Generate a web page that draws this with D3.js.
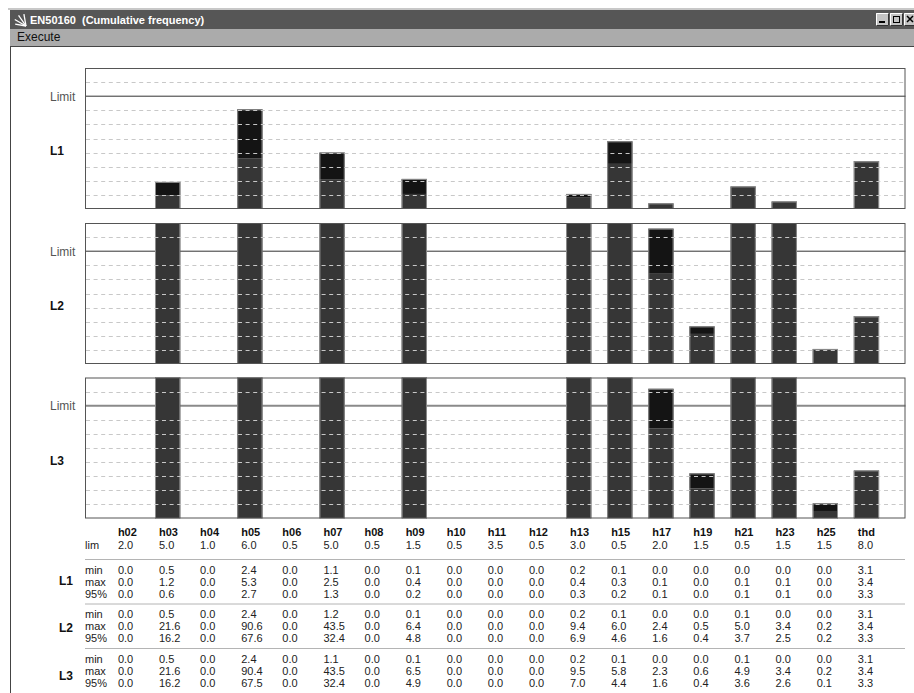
<!DOCTYPE html>
<html>
<head>
<meta charset="utf-8">
<script src="https://cdn.jsdelivr.net/npm/d3@7"></script>
<style>
  body { margin: 0; background: #fff; }
  svg { display: block; font-family: "Liberation Sans", Arial, sans-serif; }
</style>
</head>
<body>
<svg id="chart" width="914" height="693"></svg>
<script>
// harmonics and their limits
const categories = ['h02','h03','h04','h05','h06','h07','h08','h09','h10','h11','h12','h13','h15','h17','h19','h21','h23','h25','thd']
const limits = [2.0,5.0,1.0,6.0,0.5,5.0,0.5,1.5,0.5,3.5,0.5,3.0,0.5,2.0,1.5,0.5,1.5,1.5,8.0]

// L1
const l1Min = [0.0,0.5,0.0,2.4,0.0,1.1,0.0,0.1,0.0,0.0,0.0,0.2,0.1,0.0,0.0,0.0,0.0,0.0,3.1]
const l1Max = [0.0,1.2,0.0,5.3,0.0,2.5,0.0,0.4,0.0,0.0,0.0,0.4,0.3,0.1,0.0,0.1,0.1,0.0,3.4]
const l1P95 = [0.0,0.6,0.0,2.7,0.0,1.3,0.0,0.2,0.0,0.0,0.0,0.3,0.2,0.1,0.0,0.1,0.1,0.0,3.3]
// L2
const l2Min = [0.0,0.5,0.0,2.4,0.0,1.2,0.0,0.1,0.0,0.0,0.0,0.2,0.1,0.0,0.0,0.1,0.0,0.0,3.1]
const l2Max = [0.0,21.6,0.0,90.6,0.0,43.5,0.0,6.4,0.0,0.0,0.0,9.4,6.0,2.4,0.5,5.0,3.4,0.2,3.4]
const l2P95 = [0.0,16.2,0.0,67.6,0.0,32.4,0.0,4.8,0.0,0.0,0.0,6.9,4.6,1.6,0.4,3.7,2.5,0.2,3.3]
// L3
const l3Min = [0.0,0.5,0.0,2.4,0.0,1.1,0.0,0.1,0.0,0.0,0.0,0.2,0.1,0.0,0.0,0.1,0.0,0.0,3.1]
const l3Max = [0.0,21.6,0.0,90.4,0.0,43.5,0.0,6.5,0.0,0.0,0.0,9.5,5.8,2.3,0.6,4.9,3.4,0.2,3.4]
const l3P95 = [0.0,16.2,0.0,67.5,0.0,32.4,0.0,4.9,0.0,0.0,0.0,7.0,4.4,1.6,0.4,3.6,2.6,0.1,3.3]

const phaseNames = ['L1','L2','L3']
const rowLabels = ['min','max','95%']

const phases = [
    {name: 'L1', rows: [l1Min, l1Max, l1P95]},
    {name: 'L2', rows: [l2Min, l2Max, l2P95]},
    {name: 'L3', rows: [l3Min, l3Max, l3P95]}
]

const svg = d3.select('#chart')
const font = '"Liberation Sans", Arial, sans-serif'

/**
 * window chrome: title bar, menu, frame
 */
const drawWindow = () => {
    svg.append('rect').attr('x', 8).attr('y', 8).attr('width', 906).attr('height', 2).attr('fill', '#c8c8c8')
    svg.append('rect').attr('x', 10).attr('y', 10).attr('width', 904).attr('height', 19).attr('fill', '#565656')

    // little logo, a fan of strokes
    let logo = svg.append('g').attr('transform', 'translate(26,26)')
    ;[[-100, 12], [-125, 13], [-150, 13], [-170, 11]].forEach(a => {
        let r = a[0] * Math.PI / 180
        logo.append('line')
            .attr('x1', 0).attr('y1', 0)
            .attr('x2', Math.cos(r) * a[1]).attr('y2', Math.sin(r) * a[1])
            .attr('stroke', '#fff').attr('stroke-width', 1.3)
    })

    svg.append('text')
        .attr('x', 30).attr('y', 24)
        .style('font', `bold 11px ${font}`)
        .style('white-space', 'pre')
        .attr('fill', '#fff')
        .text('EN50160  (Cumulative frequency)')

    // window buttons
    ;[876, 890, 904].forEach((bx, i) => {
        let b = svg.append('g').attr('transform', `translate(${bx},13)`)
        b.append('rect').attr('width', 13).attr('height', 13).attr('fill', '#c4c4c4')
        b.append('path').attr('d', 'M0.5,12.5V0.5H12.5').attr('fill', 'none').attr('stroke', '#fff')
        b.append('path').attr('d', 'M0.5,12.5H12.5V0.5').attr('fill', 'none').attr('stroke', '#333')
        if (i == 0) b.append('rect').attr('x', 3).attr('y', 8).attr('width', 6).attr('height', 2).attr('fill', '#000')
        if (i == 1) b.append('rect').attr('x', 3.5).attr('y', 3.5).attr('width', 6).attr('height', 6)
            .attr('fill', 'none').attr('stroke', '#000').attr('stroke-width', 1)
        if (i == 2) b.append('path').attr('d', 'M3,3L9,9M9,3L3,9').attr('stroke', '#000').attr('stroke-width', 1.5)
    })

    svg.append('rect').attr('x', 10).attr('y', 29).attr('width', 904).attr('height', 17).attr('fill', '#ababab')
    svg.append('text')
        .attr('x', 17).attr('y', 41)
        .style('font', `12px ${font}`)
        .attr('fill', '#111')
        .text('Execute')

    svg.append('line').attr('x1', 10).attr('x2', 914).attr('y1', 46.5).attr('y2', 46.5).attr('stroke', '#444')
    svg.append('line').attr('x1', 10.5).attr('x2', 10.5).attr('y1', 46).attr('y2', 693).attr('stroke', '#444')
}

drawWindow()

const panelX0 = 85, panelX1 = 905.5
const panelH = 141
const panelTops = [68, 223, 377.5]

const xScale = d3.scaleBand()
    .domain(categories)
    .range([106, 887])
    .paddingInner(0.384)
    .paddingOuter(0.192)

/**
 * one phase panel, bars relative to limit (limit at 80% of height)
 */
const drawPanel = (phase, top, idx) => {
    let bottom = top + panelH
    let yScale = d3.scaleLinear().domain([0, 1.25]).range([bottom, top])
    let g = svg.append('g')

    g.append('rect')
        .attr('x', panelX0).attr('y', top)
        .attr('width', panelX1 - panelX0).attr('height', panelH)
        .attr('fill', '#fff')

    let clipId = `clip${idx}`
    g.append('clipPath').attr('id', clipId)
        .append('rect')
        .attr('x', panelX0).attr('y', top)
        .attr('width', panelX1 - panelX0).attr('height', panelH)

    // limit line
    g.append('line')
        .attr('x1', panelX0).attr('x2', panelX1)
        .attr('y1', yScale(1)).attr('y2', yScale(1))
        .attr('stroke', idx == 2 ? '#8a8a8a' : '#333')
        .attr('stroke-width', idx == 2 ? 2 : 1)

    let bars = categories.map((c, i) => ({
        cat: c,
        max: phase.rows[1][i] / limits[i],
        p95: phase.rows[2][i] / limits[i]
    })).filter(d => d.max > 0)

    let bg = g.append('g').attr('clip-path', `url(#${clipId})`)

    bg.selectAll('rect.p95')
        .data(bars)
        .enter()
        .append('rect')
            .attr('class', 'p95')
            .attr('x', d => xScale(d.cat))
            .attr('width', xScale.bandwidth())
            .attr('y', d => yScale(d.p95))
            .attr('height', d => bottom - yScale(d.p95))
            .attr('fill', '#363636')

    bg.selectAll('rect.max')
        .data(bars)
        .enter()
        .append('rect')
            .attr('class', 'max')
            .attr('x', d => xScale(d.cat))
            .attr('width', xScale.bandwidth())
            .attr('y', d => yScale(d.max))
            .attr('height', d => Math.max(0, yScale(d.p95) - yScale(d.max)))
            .attr('fill', '#141414')

    bg.selectAll('rect.edge')
        .data(bars)
        .enter()
        .append('rect')
            .attr('class', 'edge')
            .attr('x', d => xScale(d.cat) + 0.5)
            .attr('width', xScale.bandwidth() - 1)
            .attr('y', d => Math.max(top - 2, yScale(d.max)) + 0.5)
            .attr('height', d => bottom - Math.max(top - 2, yScale(d.max)))
            .attr('fill', 'none')
            .attr('stroke', '#8c8c8c')

    // dashed grid on top of bars
    let grid = d3.range(1, 10).filter(k => k != 8).map(k => k / 8)
    g.selectAll('line.grid')
        .data(grid)
        .enter()
        .append('line')
            .attr('x1', panelX0 + 1).attr('x2', panelX1 - 1)
            .attr('y1', d => Math.round(yScale(d)) + 0.5)
            .attr('y2', d => Math.round(yScale(d)) + 0.5)
            .attr('stroke', '#c8c8c8')
            .style('stroke-dasharray', '4, 3.6')

    g.append('rect')
        .attr('x', panelX0 + 0.5).attr('y', top + 0.5)
        .attr('width', panelX1 - panelX0 - 1).attr('height', panelH - 1)
        .attr('fill', 'none')
        .attr('stroke', '#555')

    g.append('text')
        .attr('x', 50).attr('y', yScale(1) + 4.3)
        .style('font', `12px ${font}`)
        .attr('fill', '#555')
        .text('Limit')

    g.append('text')
        .attr('x', 50).attr('y', top + 87)
        .style('font', `bold 12px ${font}`)
        .attr('fill', '#111')
        .text(phase.name)
}

phases.forEach((p, i) => drawPanel(p, panelTops[i], i))

/**
 * the numbers table under the charts
 */
const colX = c => xScale(c) + 4
const tbl = svg.append('g').style('font', `11px ${font}`).attr('fill', '#222')

tbl.selectAll('text.head')
    .data(categories)
    .enter()
    .append('text')
        .attr('x', d => colX(d))
        .attr('y', 536)
        .style('font-weight', 'bold')
        .attr('fill', '#111')
        .text(d => d)

tbl.append('text').attr('x', 85).attr('y', 548.5).text('lim')
tbl.selectAll('text.lim')
    .data(limits)
    .enter()
    .append('text')
        .attr('x', (d, i) => colX(categories[i]))
        .attr('y', 548.5)
        .text(d => d.toFixed(1))

const sepY = [559.5, 604, 648.5]
const blockY = [573.5, 618, 662.5]
const nameY = [585, 631.5, 680]

phases.forEach((p, b) => {
    tbl.append('line')
        .attr('x1', 85).attr('x2', 905)
        .attr('y1', sepY[b]).attr('y2', sepY[b])
        .attr('stroke', '#b4b4b4')

    tbl.append('text')
        .attr('x', 59).attr('y', nameY[b])
        .style('font', `bold 12px ${font}`)
        .attr('fill', '#111')
        .text(phaseNames[b])

    p.rows.forEach((row, r) => {
        let y = blockY[b] + r * 12
        tbl.append('text').attr('x', 85).attr('y', y).text(rowLabels[r])
        tbl.append('g')
            .selectAll('text')
            .data(row)
            .enter()
            .append('text')
                .attr('x', (d, i) => colX(categories[i]))
                .attr('y', y)
                .text(d => d.toFixed(1))
    })
})
</script>
</body>
</html>
